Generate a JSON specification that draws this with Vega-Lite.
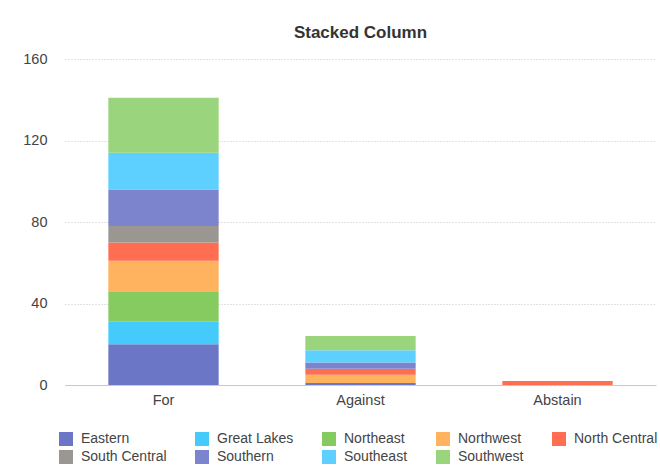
{
  "$schema": "https://vega.github.io/schema/vega-lite/v6.json",
  "width": 591,
  "height": 326,
  "autosize": "none",
  "padding": {"left": 65, "top": 59, "right": 4, "bottom": 80},
  "background": "white",
  "config": {"view": {"stroke": null}},
  "title": {"text": "Stacked Column", "font": "Liberation Sans", "fontSize": 17, "fontWeight": "bold", "color": "#333333", "offset": 9, "anchor": "middle"},
  "data": {"values": [
    {"vote": "For", "region": "Eastern", "count": 20},
    {"vote": "For", "region": "Great Lakes", "count": 11},
    {"vote": "For", "region": "Northeast", "count": 15},
    {"vote": "For", "region": "Northwest", "count": 15},
    {"vote": "For", "region": "North Central", "count": 9},
    {"vote": "For", "region": "South Central", "count": 8},
    {"vote": "For", "region": "Southern", "count": 18},
    {"vote": "For", "region": "Southeast", "count": 18},
    {"vote": "For", "region": "Southwest", "count": 27},
    {"vote": "Against", "region": "Eastern", "count": 1},
    {"vote": "Against", "region": "Great Lakes", "count": 0},
    {"vote": "Against", "region": "Northeast", "count": 0},
    {"vote": "Against", "region": "Northwest", "count": 4},
    {"vote": "Against", "region": "North Central", "count": 3},
    {"vote": "Against", "region": "South Central", "count": 0},
    {"vote": "Against", "region": "Southern", "count": 3},
    {"vote": "Against", "region": "Southeast", "count": 6},
    {"vote": "Against", "region": "Southwest", "count": 7},
    {"vote": "Abstain", "region": "North Central", "count": 2}
  ]},
  "transform": [
    {"calculate": "indexof(['Eastern', 'Great Lakes', 'Northeast', 'Northwest', 'North Central', 'South Central', 'Southern', 'Southeast', 'Southwest'], datum.region)", "as": "stackRank"}
  ],
  "mark": {"type": "bar", "opacity": 1},
  "encoding": {
    "x": {"field": "vote", "type": "nominal", "sort": ["For", "Against", "Abstain"],
      "scale": {"paddingInner": 0.44, "paddingOuter": 0.22},
      "axis": {"title": null, "labelAngle": 0, "ticks": false, "labelPadding": 8, "labelFont": "Liberation Sans", "labelFontSize": 14.5, "labelColor": "#444444", "domainColor": "#c8c8c8", "grid": false}},
    "y": {"field": "count", "type": "quantitative", "stack": "zero",
      "scale": {"domain": [0, 160]},
      "axis": {"title": null, "values": [0, 40, 80, 120, 160], "domain": false, "ticks": false, "labelPadding": 18, "labelFont": "Liberation Sans", "labelFontSize": 14.5, "labelColor": "#444444", "gridColor": "#c4c4c4", "gridDash": [1, 2]}},
    "color": {"field": "region", "type": "nominal",
      "scale": {"domain": ["Eastern", "Great Lakes", "Northeast", "Northwest", "North Central", "South Central", "Southern", "Southeast", "Southwest"],
        "range": ["#6c76c6", "#45cbfb", "#86cb5f", "#ffb35e", "#ff6e51", "#9a9692", "#7c84ce", "#5dd0ff", "#9ad47c"]},
      "legend": {"title": null, "orient": "none", "legendX": -6, "legendY": 373, "direction": "horizontal", "columns": 5, "columnPadding": 28, "rowPadding": 4, "symbolType": "square", "symbolSize": 196, "symbolStrokeWidth": 0, "symbolOpacity": 1, "labelFont": "Liberation Sans", "labelFontSize": 14, "labelColor": "#444444", "labelOffset": 8}},
    "order": {"field": "stackRank", "type": "quantitative", "sort": "ascending"}
  }
}
